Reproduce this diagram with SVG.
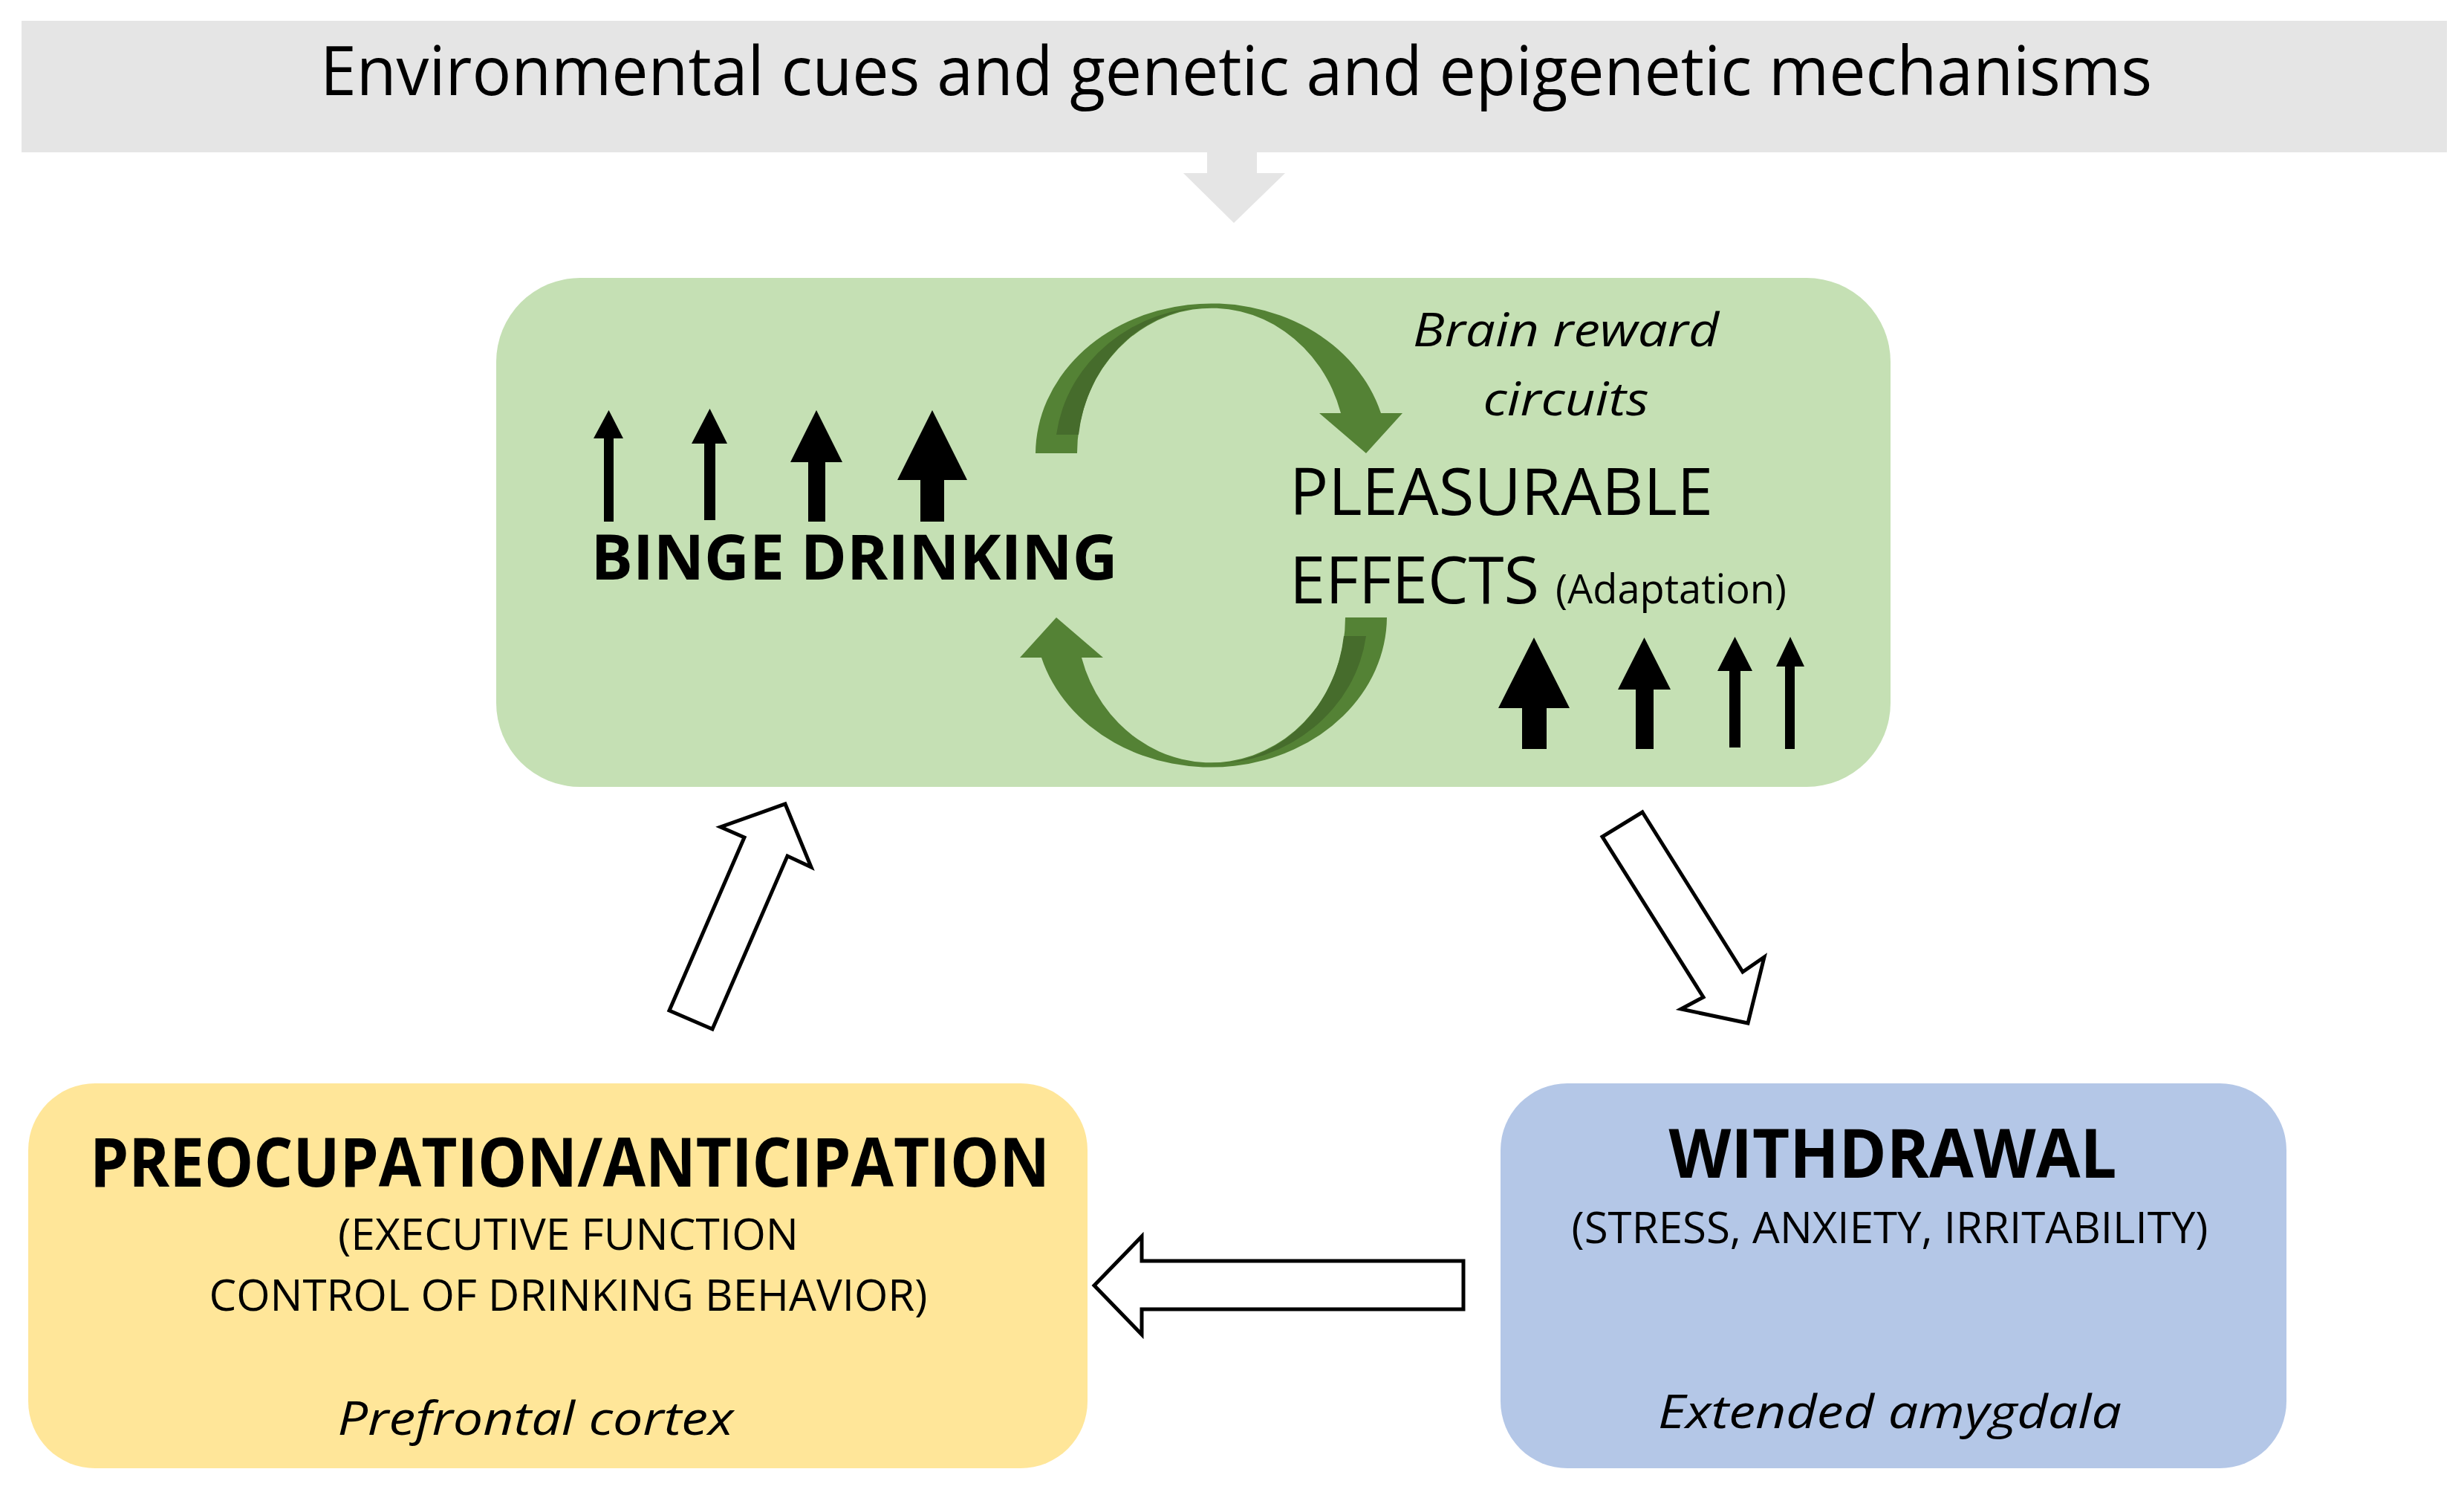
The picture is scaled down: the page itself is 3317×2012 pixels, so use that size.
<svg xmlns="http://www.w3.org/2000/svg" xmlns:xlink="http://www.w3.org/1999/xlink" width="3317" height="2012" viewBox="0 0 3317 2012">
<style>
  text { font-family: "Open Sans", "Noto Sans", "DejaVu Sans", sans-serif; fill: #000; }
  .b { font-weight: 700; }
  .i { font-style: italic; }
  .hollow { fill: #ffffff; stroke: #000; stroke-width: 5; stroke-linejoin: miter; }
  .blk { fill: #000; }
  .gr { fill: #548235; }
  .grd { fill: #466c2c; }
</style>
<defs>
  <g id="cyc">
    <path class="gr" d="M1394,610 A237,203 0 0 1 1859,556 L1888,556 L1839,610 L1776,556 L1805,556 A181,195 0 0 0 1450,610 Z"/>
    <path class="grd" d="M1422,585 A211,198 0 0 1 1631,413 A181,195 0 0 0 1452,585 Z"/>
  </g>
</defs>
<rect width="3317" height="2012" fill="#ffffff"/>

<g id="banner">
  <rect x="29" y="28" width="3265" height="177" fill="#e5e5e5"/>
  <text x="1664" y="128" font-size="92" text-anchor="middle" textLength="2466" lengthAdjust="spacingAndGlyphs">Environmental cues and genetic and epigenetic mechanisms</text>
</g>

<g id="binge">
  <rect x="668" y="374" width="1877" height="685" rx="113" ry="113" fill="#c5e0b4"/>
  <g id="cycle-arrows">
    <use xlink:href="#cyc"/>
    <use xlink:href="#cyc" transform="rotate(180 1630.5 720.5)"/>
  </g>
  <g id="up-arrows-left">
    <polygon class="blk" points="819.5,552 839,590 826,590 826,702 813,702 813,590 799,590"/>
    <polygon class="blk" points="955.5,550 979,597 963,597 963,700 948,700 948,597 931,597"/>
    <polygon class="blk" points="1099,552 1134,622 1111,622 1111,702 1088,702 1088,622 1064,622"/>
    <polygon class="blk" points="1255,552 1302,646 1271,646 1271,702 1239,702 1239,646 1208,646"/>
  </g>
  <g id="up-arrows-right">
    <polygon class="blk" points="2065,858 2113,953 2082,953 2082,1008 2049,1008 2049,953 2017,953"/>
    <polygon class="blk" points="2213.5,858 2249,928 2226,928 2226,1008 2202,1008 2202,928 2178,928"/>
    <polygon class="blk" points="2335.5,857 2359,903 2343,903 2343,1006 2328,1006 2328,903 2312,903"/>
    <polygon class="blk" points="2410,857 2429,897 2416,897 2416,1008 2403,1008 2403,897 2391,897"/>
  </g>
  <text class="b" x="1150" y="780" font-size="84" text-anchor="middle" textLength="709" lengthAdjust="spacingAndGlyphs">BINGE DRINKING</text>
  <text class="i" x="2108" y="466" font-size="62" text-anchor="middle" textLength="412" lengthAdjust="spacingAndGlyphs">Brain reward</text>
  <text class="i" x="2108" y="559" font-size="62" text-anchor="middle" textLength="223" lengthAdjust="spacingAndGlyphs">circuits</text>
  <text x="1736" y="693" font-size="87" textLength="570" lengthAdjust="spacingAndGlyphs">PLEASURABLE</text>
  <text x="1736" y="812" font-size="87" textLength="336" lengthAdjust="spacingAndGlyphs">EFFECTS</text>
  <text x="2094" y="812" font-size="54" textLength="311" lengthAdjust="spacingAndGlyphs">(Adaptation)</text>
</g>

<g id="preoccupation">
  <rect x="38" y="1458" width="1426" height="518" rx="90" ry="90" fill="#ffe699"/>
  <text class="b" x="767" y="1597" font-size="91" text-anchor="middle" textLength="1292" lengthAdjust="spacingAndGlyphs">PREOCUPATION/ANTICIPATION</text>
  <text x="765" y="1682" font-size="59" text-anchor="middle" textLength="620" lengthAdjust="spacingAndGlyphs">(EXECUTIVE FUNCTION</text>
  <text x="765" y="1764" font-size="59" text-anchor="middle" textLength="967" lengthAdjust="spacingAndGlyphs">CONTROL OF DRINKING BEHAVIOR)</text>
  <text class="i" x="721" y="1931" font-size="63" text-anchor="middle" textLength="533" lengthAdjust="spacingAndGlyphs">Prefrontal cortex</text>
</g>

<g id="withdrawal">
  <rect x="2020" y="1458" width="1058" height="518" rx="90" ry="90" fill="#b4c7e7"/>
  <text class="b" x="2548" y="1585" font-size="91" text-anchor="middle" textLength="603" lengthAdjust="spacingAndGlyphs">WITHDRAWAL</text>
  <text x="2544" y="1673" font-size="59" text-anchor="middle" textLength="857" lengthAdjust="spacingAndGlyphs">(STRESS, ANXIETY, IRRITABILITY)</text>
  <text class="i" x="2544" y="1922" font-size="63" text-anchor="middle" textLength="624" lengthAdjust="spacingAndGlyphs">Extended amygdala</text>
</g>

<g id="connectors">
  <polygon fill="#e5e5e5" points="1625,205 1692,205 1692,233 1730,233 1661,300 1593,233 1625,233"/>
  <polygon class="hollow" points="1057,1082 1092,1167 1060,1152 959,1385 901,1360 1002,1127 970,1113"/>
  <polygon class="hollow" points="2211,1093 2346,1308 2375,1288 2353,1377 2263,1358 2293,1342 2157,1126"/>
  <polygon class="hollow" points="1473,1730 1537,1664 1537,1697 1970,1697 1970,1762 1537,1762 1537,1796"/>
</g>
</svg>
